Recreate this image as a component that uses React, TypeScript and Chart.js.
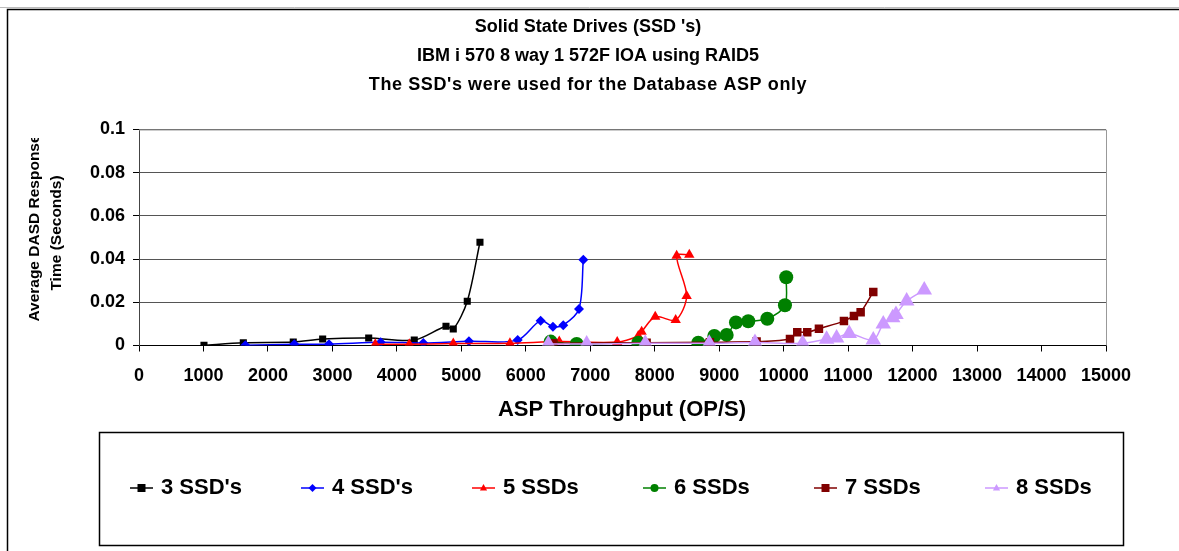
import React, { useEffect, useRef } from 'react';
import { Chart, registerables } from 'chart.js';

Chart.register(...registerables);

const titleLines = [
  "Solid State Drives (SSD 's)",
  'IBM i 570 8 way 1 572F IOA using RAID5',
  "The SSD's were used for the Database ASP only",
];
const xAxisTitle = 'ASP Throughput (OP/S)';
const yAxisTitleLines = ['Average DASD Response', 'Time (Seconds)'];
const seriesNames = ["3 SSD's", "4 SSD's", '5 SSDs', '6 SSDs', '7 SSDs', '8 SSDs'];
const seriesColors = ['#000000', '#0000FF', '#FF0000', '#008000', '#800000', '#CC99FF'];

const ssd3X = [1008, 1618, 2393, 2849, 3563, 4270, 4762, 4875, 5092, 5289];
const ssd3Y = [0.0001, 0.0013, 0.0016, 0.003, 0.0035, 0.0025, 0.0089, 0.0076, 0.0205, 0.0478];

const ssd4X = [1649, 2409, 2947, 3749, 4410, 5118, 5874, 6230, 6421, 6581, 6825, 6892];
const ssd4Y = [0.0001, 0.0006, 0.0006, 0.0015, 0.0012, 0.002, 0.0025, 0.0115, 0.0087, 0.0094, 0.0169, 0.0397];

const ssd5X = [3665, 4192, 4875, 5754, 6519, 7418, 7745, 7797, 8008, 8325, 8495, 8340, 8536];
const ssd5Y = [0.0006, 0.0006, 0.0009, 0.001, 0.0018, 0.0016, 0.0044, 0.0064, 0.0133, 0.0118, 0.0229, 0.0416, 0.042];

const ssd6X = [6386, 6789, 7745, 8676, 8924, 9116, 9260, 9451, 9746, 10020, 10040];
const ssd6Y = [0.0018, 0.0007, 0.0013, 0.0013, 0.0044, 0.0049, 0.0107, 0.0112, 0.0124, 0.0186, 0.0316];

const ssd7X = [6426, 7874, 8856, 9580, 10098, 10211, 10366, 10547, 10935, 11090, 11194, 11390];
const ssd7Y = [0.001, 0.0013, 0.0015, 0.0018, 0.003, 0.0061, 0.0061, 0.0078, 0.0113, 0.0137, 0.0154, 0.0248];

const ssd8X = [6349, 6944, 7853, 8846, 9555, 10294, 10666, 10821, 11017, 11390, 11545, 11691, 11742, 11908, 12181];
const ssd8Y = [0.0007, 0.0007, 0.001, 0.001, 0.0014, 0.001, 0.0029, 0.0035, 0.0056, 0.0025, 0.01, 0.0129, 0.0144, 0.0206, 0.0257];

const xValues = [ssd3X, ssd4X, ssd5X, ssd6X, ssd7X, ssd8X];
const yValues = [ssd3Y, ssd4Y, ssd5Y, ssd6Y, ssd7Y, ssd8Y];
const pointStyles = ['rect', 'rectRot', 'triangle', 'circle', 'rect', 'triangle'];
const pointRadii = [5, 5, 6, 7, 6, 9];

const FONT = '"Liberation Sans", Arial, sans-serif';

function drawMarker(ctx: CanvasRenderingContext2D, style: string, x: number, y: number, r: number, color: string) {
  ctx.save();
  ctx.fillStyle = color;
  ctx.beginPath();
  if (style === 'rect') {
    ctx.rect(x - r, y - r, 2 * r, 2 * r);
  } else if (style === 'rectRot') {
    ctx.moveTo(x, y - r);
    ctx.lineTo(x + r, y);
    ctx.lineTo(x, y + r);
    ctx.lineTo(x - r, y);
    ctx.closePath();
  } else if (style === 'triangle') {
    ctx.moveTo(x, y - r);
    ctx.lineTo(x + r * 0.9, y + r * 0.6);
    ctx.lineTo(x - r * 0.9, y + r * 0.6);
    ctx.closePath();
  } else {
    ctx.arc(x, y, r, 0, Math.PI * 2);
  }
  ctx.fill();
  ctx.restore();
}

const decorPlugin = {
  id: 'decor',
  beforeDatasetsDraw(chart: any) {
    const { ctx, chartArea } = chart;
    ctx.save();
    ctx.strokeStyle = '#999999';
    ctx.lineWidth = 1;
    ctx.beginPath();
    ctx.moveTo(chartArea.left, chartArea.top + 0.5);
    ctx.lineTo(chartArea.right + 0.5, chartArea.top + 0.5);
    ctx.lineTo(chartArea.right + 0.5, chartArea.bottom);
    ctx.stroke();
    ctx.restore();
  },
  afterDraw(chart: any) {
    const { ctx } = chart;
    ctx.save();
    // outer frame
    ctx.strokeStyle = '#bbbbbb';
    ctx.lineWidth = 1;
    ctx.beginPath();
    ctx.moveTo(0, 7.5);
    ctx.lineTo(1179, 7.5);
    ctx.stroke();
    ctx.strokeStyle = '#000000';
    ctx.lineWidth = 1.5;
    ctx.beginPath();
    ctx.moveTo(1179, 9.5);
    ctx.lineTo(7.5, 9.5);
    ctx.lineTo(7.5, 551);
    ctx.stroke();

    // title
    ctx.fillStyle = '#000';
    ctx.textAlign = 'center';
    ctx.textBaseline = 'middle';
    ctx.font = `bold 18px ${FONT}`;
    const titleY = [27, 56, 85];
    const titleSpacing = ['0px', '0px', '0.6px'];
    titleLines.forEach((t, i) => {
      (ctx as any).letterSpacing = titleSpacing[i];
      ctx.fillText(t, 588, titleY[i]);
    });
    (ctx as any).letterSpacing = '0px';

    // x axis title
    ctx.font = `bold 22px ${FONT}`;
    ctx.fillText(xAxisTitle, 622, 410);

    // y axis title (first line clipped by its box, as in the source)
    ctx.save();
    ctx.beginPath();
    ctx.rect(20, 138, 60, 200);
    ctx.clip();
    ctx.font = `bold 15.5px ${FONT}`;
    ctx.translate(35, 228);
    ctx.rotate(-Math.PI / 2);
    ctx.fillText(yAxisTitleLines[0], 0, 0);
    ctx.restore();
    ctx.save();
    ctx.font = `bold 15.5px ${FONT}`;
    ctx.translate(57, 233);
    ctx.rotate(-Math.PI / 2);
    ctx.fillText(yAxisTitleLines[1], 0, 0);
    ctx.restore();

    // legend box
    ctx.strokeStyle = '#000';
    ctx.lineWidth = 1.5;
    ctx.strokeRect(99.5, 432.5, 1024, 113);
    const ly = 488;
    seriesNames.forEach((name, i) => {
      const x0 = 130 + i * 171;
      ctx.strokeStyle = seriesColors[i];
      ctx.lineWidth = 1.5;
      ctx.beginPath();
      ctx.moveTo(x0, ly);
      ctx.lineTo(x0 + 23, ly);
      ctx.stroke();
      drawMarker(ctx, pointStyles[i], x0 + 11.5, ly, 4, seriesColors[i]);
      ctx.fillStyle = '#000';
      ctx.textAlign = 'left';
      ctx.font = `bold 22px ${FONT}`;
      ctx.fillText(name, x0 + 31, ly);
    });
    ctx.restore();
  },
};

export default function App() {
  const canvasRef = useRef<HTMLCanvasElement | null>(null);

  useEffect(() => {
    if (!canvasRef.current) return;
    const datasets = seriesNames.map((name, i) => ({
      label: name,
      data: xValues[i].map((x, j) => ({ x, y: yValues[i][j] })),
      borderColor: seriesColors[i],
      backgroundColor: seriesColors[i],
      pointStyle: pointStyles[i],
      pointRadius: pointRadii[i],
      pointBorderWidth: 0,
      borderWidth: 1.5,
      tension: 0.3,
      order: 6 - i,
      fill: false,
    }));
    const chart = new Chart(canvasRef.current, {
      type: 'line',
      data: { datasets },
      options: {
        responsive: false,
        animation: false,
        devicePixelRatio: 1,
        layout: { padding: { top: 129.5, right: 73, left: 0, bottom: 0 } },
        plugins: {
          legend: { display: false },
          title: { display: false },
          tooltip: { enabled: false },
        },
        scales: {
          x: {
            type: 'linear',
            min: 0,
            max: 15000,
            ticks: {
              stepSize: 1000,
              autoSkip: false,
              maxRotation: 0,
              color: '#000',
              padding: 14,
              font: { family: FONT, size: 18, weight: 'bold' },
              callback: (v: any) => String(v),
            },
            grid: { drawOnChartArea: false, color: '#000', tickLength: 6 },
            border: { color: '#000', width: 1 },
            afterFit: (s: any) => { s.height = 205.5; },
          },
          y: {
            min: 0,
            max: 0.1,
            ticks: {
              stepSize: 0.02,
              color: '#000',
              padding: 8,
              font: { family: FONT, size: 18, weight: 'bold' },
              callback: (v: any) => String(Math.round(Number(v) * 100) / 100),
            },
            grid: { color: '#555555', tickLength: 6, tickColor: '#000' },
            border: { color: '#444444', width: 1 },
            afterFit: (s: any) => { s.width = 139; },
          },
        },
      },
      plugins: [decorPlugin],
    } as any);
    return () => chart.destroy();
  }, []);

  return (
    <div style={{ position: 'absolute', left: 0, top: 0, width: 1179, height: 551, background: '#fff' }}>
      <canvas ref={canvasRef} width={1179} height={551} style={{ display: 'block', width: 1179, height: 551 }} />
    </div>
  );
}
